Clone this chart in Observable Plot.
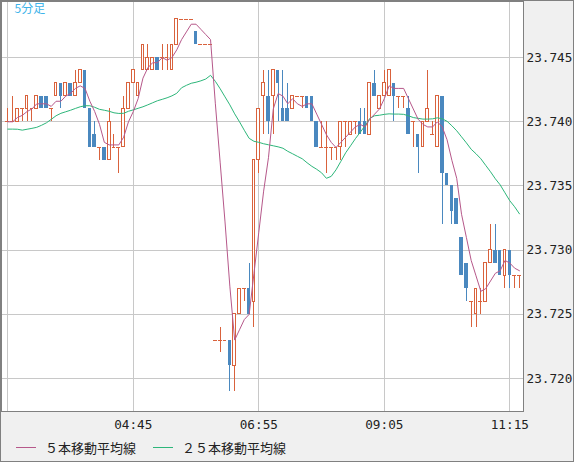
<!DOCTYPE html>
<html>
<head>
<meta charset="utf-8">
<script src="https://cdn.jsdelivr.net/npm/d3@7"></script>
<script src="https://cdn.jsdelivr.net/npm/@observablehq/plot@0.6"></script>
<style>
  html, body { margin: 0; padding: 0; background: #f0f0f0; }
  #wrap { position: relative; width: 574px; height: 462px; background: #f0f0f0; overflow: hidden; }
  #chart { position: absolute; left: 0; top: 0; }
  #legend { position: absolute; left: 0; top: 438px; width: 574px; height: 20px;
            font-family: "Noto Sans CJK JP", sans-serif; font-size: 13px; color: #222; }
  #legend .sw { position: absolute; top: 9px; width: 20px; height: 1px; }
  #legend .lb { position: absolute; top: 0; line-height: 20px; white-space: nowrap; }
  #border { position: absolute; left: 0; top: 0; right: 0; bottom: 0; border: 1px solid #808080; pointer-events: none; }
</style>
</head>
<body>
<div id="wrap">
  <div id="chart"></div>
  <div id="legend"></div>
  <div id="border"></div>
</div>
<script>
// ---- data (5-minute candles from 02:35 to 11:25) ----
const firstCandle = "2024-01-01T02:35Z";
const lastCandle = "2024-01-01T11:25Z";

const open = [
  23.740,23.740,23.740,23.741,23.741,23.741,23.741,23.742,23.742,23.741,
  23.742,23.743,23.742,23.743,23.742,23.743,23.744,23.741,23.739,23.738,
  23.738,23.737,23.738,23.738,23.738,23.741,23.743,23.742,23.744,23.744,
  23.744,23.745,23.745,23.745,23.744,23.746,23.748,23.748,23.748,23.747,
  23.746,23.746,23.746,23.723,23.723,23.723,23.723,23.721,23.725,23.727,
  23.727,23.726,23.737,23.742,23.742,23.742,23.744,23.741,23.741,23.741,
  23.742,23.742,23.742,23.742,23.740,23.738,23.738,23.738,23.738,23.738,
  23.740,23.739,23.740,23.740,23.740,23.739,23.743,23.741,23.742,23.742,
  23.743,23.742,23.742,23.741,23.740,23.739,23.738,23.740,23.739,23.738,
  23.742,23.736,23.735,23.734,23.731,23.729,23.726,23.725,23.726,23.726,
  23.729,23.730,23.730,23.728,23.730,23.728,23.728
];
const high = [
  23.741,23.742,23.741,23.741,23.742,23.741,23.742,23.742,23.742,23.741,
  23.743,23.743,23.743,23.743,23.744,23.744,23.744,23.741,23.740,23.738,
  23.738,23.741,23.739,23.738,23.742,23.743,23.744,23.743,23.746,23.746,
  23.745,23.745,23.746,23.746,23.746,23.748,23.748,23.748,23.748,23.747,
  23.746,23.746,23.746,23.723,23.724,23.723,23.723,23.725,23.727,23.727,
  23.729,23.737,23.741,23.744,23.744,23.744,23.744,23.744,23.743,23.742,
  23.742,23.742,23.742,23.742,23.740,23.740,23.740,23.738,23.738,23.740,
  23.740,23.740,23.740,23.741,23.741,23.743,23.744,23.742,23.744,23.744,
  23.743,23.742,23.742,23.742,23.740,23.739,23.740,23.744,23.740,23.742,
  23.742,23.736,23.735,23.734,23.731,23.729,23.726,23.727,23.727,23.729,
  23.732,23.732,23.730,23.730,23.730,23.728,23.728
];
const low = [
  23.740,23.740,23.740,23.740,23.740,23.740,23.741,23.741,23.741,23.740,
  23.742,23.741,23.742,23.742,23.742,23.743,23.741,23.738,23.738,23.737,
  23.737,23.737,23.738,23.736,23.738,23.741,23.743,23.742,23.744,23.744,
  23.744,23.744,23.744,23.744,23.744,23.746,23.748,23.748,23.748,23.746,
  23.746,23.746,23.746,23.723,23.722,23.723,23.719,23.719,23.725,23.726,
  23.725,23.724,23.736,23.739,23.739,23.739,23.740,23.740,23.740,23.741,
  23.742,23.741,23.741,23.740,23.738,23.738,23.736,23.737,23.737,23.737,
  23.738,23.739,23.739,23.739,23.739,23.739,23.742,23.741,23.742,23.742,
  23.740,23.741,23.741,23.739,23.738,23.736,23.738,23.740,23.739,23.738,
  23.732,23.735,23.732,23.732,23.728,23.726,23.724,23.724,23.725,23.726,
  23.729,23.729,23.728,23.727,23.727,23.727,23.727
];
const close = [
  23.740,23.740,23.741,23.741,23.742,23.741,23.742,23.741,23.741,23.741,
  23.743,23.742,23.743,23.742,23.743,23.744,23.741,23.738,23.738,23.738,
  23.737,23.740,23.738,23.738,23.741,23.743,23.744,23.743,23.746,23.745,
  23.745,23.744,23.745,23.745,23.746,23.748,23.748,23.748,23.748,23.746,
  23.746,23.746,23.746,23.723,23.723,23.723,23.721,23.725,23.727,23.727,
  23.725,23.737,23.741,23.743,23.740,23.744,23.743,23.740,23.740,23.742,
  23.742,23.742,23.741,23.740,23.738,23.738,23.738,23.738,23.738,23.740,
  23.740,23.740,23.740,23.739,23.739,23.743,23.742,23.742,23.743,23.744,
  23.742,23.742,23.742,23.739,23.740,23.738,23.740,23.741,23.739,23.742,
  23.736,23.735,23.733,23.732,23.728,23.727,23.726,23.727,23.726,23.729,
  23.730,23.729,23.728,23.730,23.728,23.728,23.728
];
// 25-period moving average as drawn on the reference
const ma25 = [
  23.73943,23.73943,23.73942,23.73935,23.73942,23.73949,23.73957,23.73973,23.73992,23.74019,
  23.74047,23.74066,23.74078,23.74090,23.74104,23.74117,23.74125,23.74125,23.74113,23.74097,
  23.74090,23.74082,23.74070,23.74065,23.74066,23.74082,23.74093,23.74105,23.74117,23.74132,
  23.74148,23.74164,23.74175,23.74187,23.74202,23.74222,23.74265,23.74284,23.74300,23.74308,
  23.74319,23.74333,23.74362,23.74315,23.74257,23.74194,23.74132,23.74062,23.74000,23.73934,
  23.73871,23.73848,23.73840,23.73829,23.73821,23.73813,23.73805,23.73794,23.73770,23.73751,
  23.73731,23.73712,23.73681,23.73653,23.73630,23.73603,23.73560,23.73575,23.73626,23.73692,
  23.73759,23.73813,23.73868,23.73918,23.73969,23.74027,23.74047,23.74051,23.74058,23.74062,
  23.74060,23.74060,23.74058,23.74047,23.74033,23.74027,23.74021,23.74021,23.74023,23.74031,
  23.74023,23.74004,23.73969,23.73930,23.73883,23.73836,23.73786,23.73751,23.73712,23.73661,
  23.73611,23.73556,23.73509,23.73447,23.73385,23.73338,23.73283
];

const gridTimes = ["02:35", "04:45", "06:55", "09:05", "11:15"];
const labelTimes = ["04:45", "06:55", "09:05", "11:15"];
const priceTicks = [23.720, 23.725, 23.730, 23.735, 23.740, 23.745];
const title = "5分足";
const legendLabels = ["５本移動平均線", "２５本移動平均線"];

// ---- styling ----
const UP = "#d9623c", DOWN = "#4a88bf", MA5C = "#b6588a", MA25C = "#2db67a", GRID = "#c8c8c8";

const toTime = s => new Date(`2024-01-01T${s}Z`);
const t0 = new Date(firstCandle);
const times = d3.utcMinute.every(5).range(t0, d3.utcMinute.offset(new Date(lastCandle), 1));
const candles = times.map((t, i) => ({
  time: t, open: open[i], high: high[i], low: low[i], close: close[i], ma25: ma25[i]
}));
const ups = candles.filter(d => d.close > d.open);
const downs = candles.filter(d => d.close < d.open);
const flats = candles.filter(d => d.close === d.open);
const sh = (t, ms) => new Date(+t + ms);

const chart = Plot.plot({
  width: 574,
  height: 437,
  marginLeft: 1,
  marginTop: 1,
  marginRight: 51,
  marginBottom: 26,
  style: { background: "transparent", fontFamily: "DejaVu Sans Mono, monospace", fontSize: "12.7px", color: "#222", overflow: "visible" },
  x: { type: "utc", domain: [sh(t0, -6.526 * 60000), sh(t0, 534.18 * 60000)] },
  y: { domain: [23.717437, 23.749369] },
  marks: [
    Plot.frame({ fill: "white", stroke: null }),
    Plot.ruleX(gridTimes.map(toTime), { stroke: GRID, shapeRendering: "crispEdges" }),
    Plot.ruleY(priceTicks, { stroke: GRID, shapeRendering: "crispEdges" }),
    // wicks
    Plot.ruleX(candles, { x: "time", y1: "low", y2: "high", stroke: d => d.close < d.open ? DOWN : UP, shapeRendering: "crispEdges" }),
    // bodies
    Plot.rect(downs, { x1: d => sh(d.time, -112000), x2: d => sh(d.time, 112000), y1: "open", y2: "close", fill: DOWN, shapeRendering: "crispEdges" }),
    Plot.rect(ups, { x1: d => sh(d.time, -85000), x2: d => sh(d.time, 85000), y1: "open", y2: "close", fill: "white", stroke: UP, shapeRendering: "crispEdges" }),
    Plot.ruleY(flats, { y: "open", x1: d => sh(d.time, -118000), x2: d => sh(d.time, 118000), stroke: UP, shapeRendering: "crispEdges" }),
    // moving averages
    Plot.lineY(candles, { x: "time", y: "ma25", stroke: MA25C, strokeWidth: 1 }),
    Plot.lineY(candles, Plot.windowY({ k: 5, anchor: "end", reduce: "mean" }, { x: "time", y: "close", stroke: MA5C, strokeWidth: 1 })),
    Plot.frame({ stroke: "#808080", shapeRendering: "crispEdges" }),
    Plot.axisX({ ticks: labelTimes.map(toTime), tickFormat: d3.utcFormat("%H:%M"), tickSize: 0, tickPadding: 8, label: null, fill: "#222" }),
    Plot.axisY({ ticks: priceTicks, anchor: "right", tickSize: 0, tickPadding: 3, tickFormat: d => d.toFixed(3), label: null, fill: "#222" }),
    Plot.text([title], { text: d => d, frameAnchor: "top-left", dx: 13, dy: 3, lineAnchor: "top", textAnchor: "start",
      fill: "#3db4ea", fontSize: 12, fontFamily: "Noto Sans CJK JP, sans-serif" })
  ]
});
document.getElementById("chart").appendChild(chart);

const legend = document.getElementById("legend");
const legendItems = [
  { label: legendLabels[0], color: MA5C, sw: 16, tx: 45 },
  { label: legendLabels[1], color: MA25C, sw: 153, tx: 182 }
];
for (const it of legendItems) {
  const s = document.createElement("span");
  s.className = "sw"; s.style.left = it.sw + "px"; s.style.background = it.color;
  legend.appendChild(s);
  const l = document.createElement("span");
  l.className = "lb"; l.style.left = it.tx + "px"; l.textContent = it.label;
  legend.appendChild(l);
}
</script>
</body>
</html>
